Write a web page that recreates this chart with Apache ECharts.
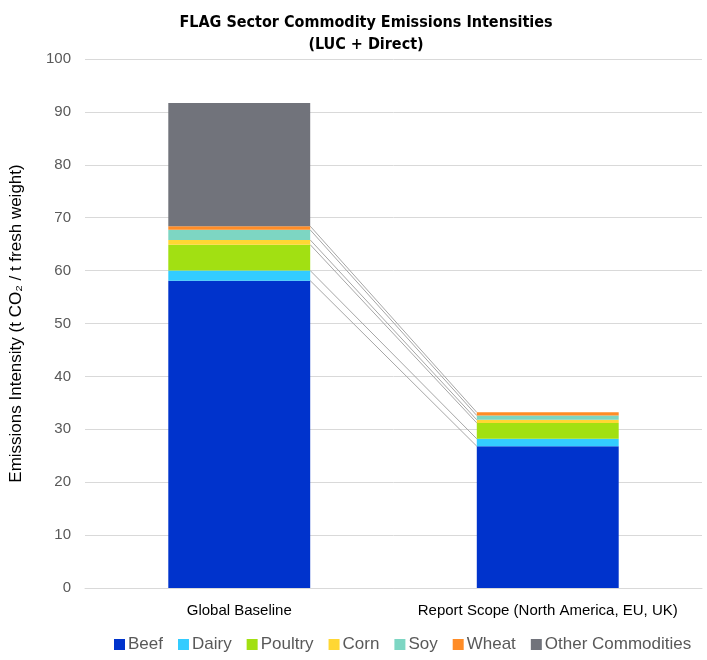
<!DOCTYPE html>
<html>
<head>
<meta charset="utf-8">
<script src="https://cdn.jsdelivr.net/npm/echarts@6/dist/echarts.min.js"></script>
<style>
  html, body { margin: 0; padding: 0; background: #fff; }
  #chart { width: 707px; height: 660px; }
</style>
</head>
<body>
<div id="chart"></div>
<script>
// categories and values
const categories = ['Global Baseline', 'Report Scope (North America, EU, UK)']
const seriesNames = ['Beef', 'Dairy', 'Poultry', 'Corn', 'Soy', 'Wheat', 'Other Commodities']
const beef = [58.1, 26.8]
const dairy = [1.9, 1.4]
const poultry = [4.9, 3.0]
const corn = [0.9, 0.6]
const soy = [1.9, 0.8]
const wheat = [0.7, 0.6]
const other = [23.3, 0]
const colors = ['#0033CC', '#33CCFF', '#A2E012', '#FFD733', '#7DD6C3', '#FF8C26', '#71737B']

const values = [beef, dairy, poultry, corn, soy, wheat, other]
const barW = 0.46

// series lines: top of each segment (except the last) in bar 1 -> bar 2
const cum = [0, 0]
const linkData = []
for (let i = 0; i < values.length - 1; i++) {
  cum[0] += values[i][0]
  cum[1] += values[i][1]
  linkData.push([0, cum[0], cum[1]])
}

const chart = echarts.init(document.getElementById('chart'))

const barSeries = seriesNames.map((name, i) => ({
  name: name,
  type: 'bar',
  stack: 'total',
  barWidth: (barW * 100) + '%',
  itemStyle: { color: colors[i] },
  data: values[i]
}))

chart.setOption({
  animation: false,
  title: {
    text: 'FLAG Sector Commodity Emissions Intensities\n(LUC + Direct)',
    left: 361,
    textAlign: 'center',
    top: 7,
    textStyle: {
      fontFamily: "'Liberation Sans Narrow', 'DejaVu Sans Condensed', 'Roboto', sans-serif",
      fontWeight: 'bold',
      fontSize: 16,
      lineHeight: 22,
      color: '#000'
    }
  },
  legend: {
    bottom: 2,
    left: 109,
    icon: 'rect',
    itemWidth: 11,
    itemHeight: 11,
    itemGap: 15,
    textStyle: { fontFamily: 'Liberation Sans', fontSize: 17, color: '#595959', padding: [0, 0, 0, -2] },
    data: seriesNames
  },
  grid: { left: 82, right: 5, top: 59, bottom: 72 },
  xAxis: {
    type: 'category',
    data: categories,
    axisLine: { lineStyle: { color: '#D9D9D9' } },
    axisTick: { show: false },
    axisLabel: { interval: 0, margin: 15, fontFamily: 'Liberation Sans', fontSize: 15, color: '#000' }
  },
  yAxis: {
    type: 'value',
    min: 0,
    max: 100,
    interval: 10,
    name: 'Emissions Intensity (t CO₂ / t fresh weight)',
    nameLocation: 'middle',
    nameGap: 60,
    nameTextStyle: { fontFamily: 'Liberation Sans', fontSize: 17, color: '#000' },
    axisLine: { show: false },
    axisTick: { show: false },
    axisLabel: { margin: 14, fontFamily: 'Liberation Sans', fontSize: 15, color: '#595959' },
    splitLine: { lineStyle: { color: '#D9D9D9' } }
  },
  series: barSeries.concat([{
    type: 'custom',
    silent: true,
    z: 1,
    encode: { x: 0, y: 1 },
    renderItem: function (params, api) {
      const p0 = api.coord([0, api.value(1)])
      const p1 = api.coord([1, api.value(2)])
      const half = api.size([1, 0])[0] * barW / 2
      return {
        type: 'line',
        shape: { x1: p0[0] + half, y1: p0[1], x2: p1[0] - half, y2: p1[1] },
        style: { stroke: '#A6A6A6', lineWidth: 1 }
      }
    },
    data: linkData
  }])
})
</script>
</body>
</html>
